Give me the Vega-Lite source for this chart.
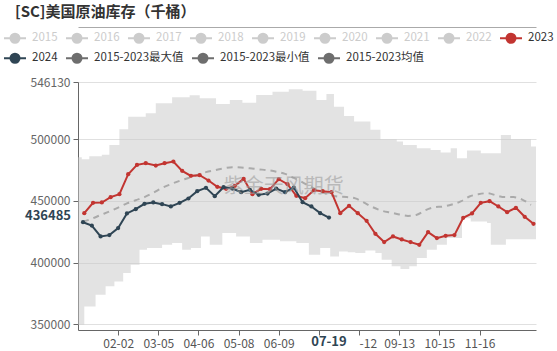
{
  "$schema": "https://vega.github.io/schema/vega-lite/v6.json",
  "width": 458,
  "height": 248,
  "autosize": {"type": "none"},
  "padding": {"left": 78, "top": 82, "right": 21, "bottom": 21},
  "background": "white",
  "title": {"text": "[SC]美国原油库存（千桶）", "anchor": "start", "frame": "group", "dx": -63, "offset": 6, "font": "Noto Sans CJK SC", "fontSize": 15, "fontWeight": "bold", "color": "#333333"},
  "config": {
    "view": {"stroke": null},
    "font": "Noto Sans CJK SC",
    "legend": {
      "title": null,
      "orient": "none",
      "direction": "horizontal",
      "padding": 0,
      "symbolType": "M-1,0L1,0M-0.41,0A0.41,0.41,0,1,1,0.41,0A0.41,0.41,0,1,1,-0.41,0Z",
      "symbolSize": 484,
      "symbolStrokeWidth": 2,
      "labelFontSize": 11.5,
      "labelOffset": 5,
      "columnPadding": 4,
      "labelColor": "#333333"
    }
  },
  "datasets": {
    "band": [
      {"date": "2024-01-01", "max": 485300, "min": 349800},
      {"date": "2024-01-04", "max": 483700, "min": 349800},
      {"date": "2024-01-06", "max": 483700, "min": 364600},
      {"date": "2024-01-10", "max": 486000, "min": 364600},
      {"date": "2024-01-15", "max": 486000, "min": 374000},
      {"date": "2024-01-20", "max": 487200, "min": 374000},
      {"date": "2024-01-23", "max": 487200, "min": 380800},
      {"date": "2024-01-26", "max": 495200, "min": 380800},
      {"date": "2024-01-30", "max": 495200, "min": 384800},
      {"date": "2024-02-03", "max": 507900, "min": 384800},
      {"date": "2024-02-06", "max": 507900, "min": 391600},
      {"date": "2024-02-10", "max": 518100, "min": 391600},
      {"date": "2024-02-12", "max": 518100, "min": 398300},
      {"date": "2024-02-19", "max": 518100, "min": 410400},
      {"date": "2024-02-24", "max": 520800, "min": 410400},
      {"date": "2024-02-25", "max": 520800, "min": 411800},
      {"date": "2024-03-03", "max": 528900, "min": 411800},
      {"date": "2024-03-08", "max": 528900, "min": 414500},
      {"date": "2024-03-16", "max": 533700, "min": 415800},
      {"date": "2024-03-24", "max": 533700, "min": 410400},
      {"date": "2024-03-30", "max": 535400, "min": 410400},
      {"date": "2024-03-31", "max": 535400, "min": 411800},
      {"date": "2024-04-07", "max": 533000, "min": 411800},
      {"date": "2024-04-08", "max": 533000, "min": 421200},
      {"date": "2024-04-15", "max": 533000, "min": 414500},
      {"date": "2024-04-20", "max": 528400, "min": 414500},
      {"date": "2024-04-25", "max": 528400, "min": 423900},
      {"date": "2024-05-01", "max": 531600, "min": 423900},
      {"date": "2024-05-06", "max": 531600, "min": 421200},
      {"date": "2024-05-11", "max": 529400, "min": 421200},
      {"date": "2024-05-17", "max": 529400, "min": 415800},
      {"date": "2024-05-22", "max": 535600, "min": 415800},
      {"date": "2024-05-27", "max": 535600, "min": 418500},
      {"date": "2024-06-04", "max": 538300, "min": 418500},
      {"date": "2024-06-10", "max": 538300, "min": 417200},
      {"date": "2024-06-17", "max": 540200, "min": 417200},
      {"date": "2024-06-23", "max": 540200, "min": 415800},
      {"date": "2024-06-28", "max": 539100, "min": 415800},
      {"date": "2024-07-03", "max": 539100, "min": 406400},
      {"date": "2024-07-09", "max": 531600, "min": 406400},
      {"date": "2024-07-12", "max": 531600, "min": 411800},
      {"date": "2024-07-17", "max": 536400, "min": 411800},
      {"date": "2024-07-20", "max": 536400, "min": 405000},
      {"date": "2024-07-23", "max": 526200, "min": 405000},
      {"date": "2024-07-27", "max": 526200, "min": 409100},
      {"date": "2024-07-31", "max": 518700, "min": 409100},
      {"date": "2024-08-03", "max": 518700, "min": 408500},
      {"date": "2024-08-08", "max": 514100, "min": 408500},
      {"date": "2024-08-09", "max": 514100, "min": 407700},
      {"date": "2024-08-17", "max": 514100, "min": 409900},
      {"date": "2024-08-21", "max": 507400, "min": 409900},
      {"date": "2024-08-25", "max": 507400, "min": 407700},
      {"date": "2024-08-29", "max": 499800, "min": 407700},
      {"date": "2024-08-30", "max": 499800, "min": 402300},
      {"date": "2024-09-07", "max": 499800, "min": 397000},
      {"date": "2024-09-11", "max": 497900, "min": 397000},
      {"date": "2024-09-14", "max": 497900, "min": 394800},
      {"date": "2024-09-16", "max": 495200, "min": 394800},
      {"date": "2024-09-21", "max": 495200, "min": 397000},
      {"date": "2024-09-27", "max": 492500, "min": 403700},
      {"date": "2024-10-05", "max": 492500, "min": 410400},
      {"date": "2024-10-08", "max": 491200, "min": 410400},
      {"date": "2024-10-13", "max": 491200, "min": 414500},
      {"date": "2024-10-16", "max": 489000, "min": 414500},
      {"date": "2024-10-21", "max": 489000, "min": 420000},
      {"date": "2024-10-24", "max": 492500, "min": 420000},
      {"date": "2024-10-29", "max": 484500, "min": 420000},
      {"date": "2024-11-02", "max": 484500, "min": 436000},
      {"date": "2024-11-06", "max": 490700, "min": 436000},
      {"date": "2024-11-09", "max": 490700, "min": 433300},
      {"date": "2024-11-17", "max": 488500, "min": 433300},
      {"date": "2024-11-22", "max": 488500, "min": 432000},
      {"date": "2024-11-25", "max": 488500, "min": 414500},
      {"date": "2024-12-03", "max": 503300, "min": 414500},
      {"date": "2024-12-07", "max": 503300, "min": 419000},
      {"date": "2024-12-11", "max": 499800, "min": 419000},
      {"date": "2024-12-27", "max": 493900, "min": 419000},
      {"date": "2024-12-31", "max": 493900, "min": 419000}
    ],
    "mean": [
      {"date": "2024-01-05", "mean": 433000},
      {"date": "2024-01-12", "mean": 435500},
      {"date": "2024-01-19", "mean": 438500},
      {"date": "2024-01-26", "mean": 441400},
      {"date": "2024-02-02", "mean": 444500},
      {"date": "2024-02-09", "mean": 447900},
      {"date": "2024-02-16", "mean": 450500},
      {"date": "2024-02-23", "mean": 453000},
      {"date": "2024-03-01", "mean": 456500},
      {"date": "2024-03-08", "mean": 460500},
      {"date": "2024-03-15", "mean": 463500},
      {"date": "2024-03-22", "mean": 466200},
      {"date": "2024-03-29", "mean": 468500},
      {"date": "2024-04-05", "mean": 471000},
      {"date": "2024-04-12", "mean": 473200},
      {"date": "2024-04-19", "mean": 474800},
      {"date": "2024-04-26", "mean": 476200},
      {"date": "2024-05-03", "mean": 477200},
      {"date": "2024-05-10", "mean": 477000},
      {"date": "2024-05-17", "mean": 476300},
      {"date": "2024-05-24", "mean": 475500},
      {"date": "2024-05-31", "mean": 474800},
      {"date": "2024-06-07", "mean": 473600},
      {"date": "2024-06-14", "mean": 471800},
      {"date": "2024-06-21", "mean": 468500},
      {"date": "2024-06-28", "mean": 465000},
      {"date": "2024-07-05", "mean": 461000},
      {"date": "2024-07-12", "mean": 457500},
      {"date": "2024-07-19", "mean": 455000},
      {"date": "2024-07-26", "mean": 453500},
      {"date": "2024-08-02", "mean": 453000},
      {"date": "2024-08-09", "mean": 452000},
      {"date": "2024-08-16", "mean": 448500},
      {"date": "2024-08-23", "mean": 444800},
      {"date": "2024-08-30", "mean": 442000},
      {"date": "2024-09-06", "mean": 440500},
      {"date": "2024-09-13", "mean": 439000},
      {"date": "2024-09-20", "mean": 437800},
      {"date": "2024-09-27", "mean": 438700},
      {"date": "2024-10-04", "mean": 442500},
      {"date": "2024-10-11", "mean": 444800},
      {"date": "2024-10-18", "mean": 445400},
      {"date": "2024-10-25", "mean": 447000},
      {"date": "2024-11-01", "mean": 449500},
      {"date": "2024-11-08", "mean": 453500},
      {"date": "2024-11-15", "mean": 455300},
      {"date": "2024-11-22", "mean": 456200},
      {"date": "2024-11-29", "mean": 454500},
      {"date": "2024-12-06", "mean": 453000},
      {"date": "2024-12-13", "mean": 453000},
      {"date": "2024-12-20", "mean": 451000},
      {"date": "2024-12-27", "mean": 446700}
    ],
    "series": [
      {"series": "2023", "date": "2024-01-06", "value": 440000},
      {"series": "2023", "date": "2024-01-13", "value": 448400},
      {"series": "2023", "date": "2024-01-20", "value": 448650},
      {"series": "2023", "date": "2024-01-27", "value": 452960},
      {"series": "2023", "date": "2024-02-03", "value": 455390},
      {"series": "2023", "date": "2024-02-10", "value": 471540},
      {"series": "2023", "date": "2024-02-17", "value": 479080},
      {"series": "2023", "date": "2024-02-24", "value": 480430},
      {"series": "2023", "date": "2024-03-03", "value": 478540},
      {"series": "2023", "date": "2024-03-10", "value": 480430},
      {"series": "2023", "date": "2024-03-17", "value": 481780},
      {"series": "2023", "date": "2024-03-24", "value": 474240},
      {"series": "2023", "date": "2024-03-31", "value": 470200},
      {"series": "2023", "date": "2024-04-07", "value": 470740},
      {"series": "2023", "date": "2024-04-14", "value": 466430},
      {"series": "2023", "date": "2024-04-21", "value": 461310},
      {"series": "2023", "date": "2024-04-28", "value": 459690},
      {"series": "2023", "date": "2024-05-05", "value": 462120},
      {"series": "2023", "date": "2024-05-12", "value": 467770},
      {"series": "2023", "date": "2024-05-19", "value": 455390},
      {"series": "2023", "date": "2024-05-26", "value": 459690},
      {"series": "2023", "date": "2024-06-02", "value": 459430},
      {"series": "2023", "date": "2024-06-09", "value": 467500},
      {"series": "2023", "date": "2024-06-16", "value": 463470},
      {"series": "2023", "date": "2024-06-23", "value": 454040},
      {"series": "2023", "date": "2024-06-30", "value": 452150},
      {"series": "2023", "date": "2024-07-07", "value": 458620},
      {"series": "2023", "date": "2024-07-14", "value": 457810},
      {"series": "2023", "date": "2024-07-21", "value": 457000},
      {"series": "2023", "date": "2024-07-28", "value": 440040},
      {"series": "2023", "date": "2024-08-04", "value": 445960},
      {"series": "2023", "date": "2024-08-11", "value": 440040},
      {"series": "2023", "date": "2024-08-18", "value": 433840},
      {"series": "2023", "date": "2024-08-25", "value": 423340},
      {"series": "2023", "date": "2024-09-01", "value": 416610},
      {"series": "2023", "date": "2024-09-08", "value": 421180},
      {"series": "2023", "date": "2024-09-15", "value": 418760},
      {"series": "2023", "date": "2024-09-22", "value": 416610},
      {"series": "2023", "date": "2024-09-29", "value": 414450},
      {"series": "2023", "date": "2024-10-06", "value": 424690},
      {"series": "2023", "date": "2024-10-13", "value": 419840},
      {"series": "2023", "date": "2024-10-20", "value": 421720},
      {"series": "2023", "date": "2024-10-27", "value": 422260},
      {"series": "2023", "date": "2024-11-03", "value": 436270},
      {"series": "2023", "date": "2024-11-10", "value": 439770},
      {"series": "2023", "date": "2024-11-17", "value": 448380},
      {"series": "2023", "date": "2024-11-24", "value": 449730},
      {"series": "2023", "date": "2024-12-01", "value": 445420},
      {"series": "2023", "date": "2024-12-08", "value": 440840},
      {"series": "2023", "date": "2024-12-15", "value": 444340},
      {"series": "2023", "date": "2024-12-22", "value": 437070},
      {"series": "2023", "date": "2024-12-29", "value": 431420},
      {"series": "2024", "date": "2024-01-05", "value": 432700},
      {"series": "2024", "date": "2024-01-12", "value": 430000},
      {"series": "2024", "date": "2024-01-19", "value": 421190},
      {"series": "2024", "date": "2024-01-26", "value": 422260},
      {"series": "2024", "date": "2024-02-02", "value": 427920},
      {"series": "2024", "date": "2024-02-09", "value": 439770},
      {"series": "2024", "date": "2024-02-16", "value": 443270},
      {"series": "2024", "date": "2024-02-23", "value": 447580},
      {"series": "2024", "date": "2024-03-01", "value": 448650},
      {"series": "2024", "date": "2024-03-08", "value": 447310},
      {"series": "2024", "date": "2024-03-15", "value": 445420},
      {"series": "2024", "date": "2024-03-22", "value": 448380},
      {"series": "2024", "date": "2024-03-29", "value": 451880},
      {"series": "2024", "date": "2024-04-05", "value": 457810},
      {"series": "2024", "date": "2024-04-12", "value": 460500},
      {"series": "2024", "date": "2024-04-19", "value": 453770},
      {"series": "2024", "date": "2024-04-26", "value": 461040},
      {"series": "2024", "date": "2024-05-03", "value": 459960},
      {"series": "2024", "date": "2024-05-10", "value": 457000},
      {"series": "2024", "date": "2024-05-17", "value": 458890},
      {"series": "2024", "date": "2024-05-24", "value": 454850},
      {"series": "2024", "date": "2024-05-31", "value": 455920},
      {"series": "2024", "date": "2024-06-07", "value": 459960},
      {"series": "2024", "date": "2024-06-14", "value": 457000},
      {"series": "2024", "date": "2024-06-21", "value": 460770},
      {"series": "2024", "date": "2024-06-28", "value": 448920},
      {"series": "2024", "date": "2024-07-05", "value": 445420},
      {"series": "2024", "date": "2024-07-12", "value": 440040},
      {"series": "2024", "date": "2024-07-19", "value": 436485}
    ]
  },
  "resolve": {"axis": {"x": "independent"}, "scale": {"color": "independent"}, "legend": {"color": "independent"}},
  "layer": [
    {
      "data": {"name": "band"},
      "mark": {"type": "area", "interpolate": "step-after", "color": "#c8c8c8", "opacity": 0.5},
      "encoding": {
        "x": {
          "field": "date", "type": "temporal",
          "scale": {"type": "utc", "domain": [{"year": 2024, "month": 1, "date": 1, "utc": true}, {"year": 2024, "month": 12, "date": 31, "utc": true}], "nice": false},
          "axis": {
            "title": null,
            "values": [
              {"year": 2024, "month": 2, "date": 2, "utc": true},
              {"year": 2024, "month": 3, "date": 5, "utc": true},
              {"year": 2024, "month": 4, "date": 6, "utc": true},
              {"year": 2024, "month": 5, "date": 8, "utc": true},
              {"year": 2024, "month": 6, "date": 9, "utc": true},
              {"year": 2024, "month": 7, "date": 11, "utc": true},
              {"year": 2024, "month": 8, "date": 12, "utc": true},
              {"year": 2024, "month": 9, "date": 13, "utc": true},
              {"year": 2024, "month": 10, "date": 15, "utc": true},
              {"year": 2024, "month": 11, "date": 16, "utc": true}
            ],
            "labelExpr": "utcFormat(datum.value,'%m-%d') == '07-11' ? '' : (utcFormat(datum.value,'%m-%d') == '08-12' ? '-12' : utcFormat(datum.value,'%m-%d'))",
            "labelAlign": {"condition": {"test": "utcFormat(datum.value,'%m-%d') == '08-12'", "value": "left"}, "value": "center"},
            "grid": false,
            "labelColor": "#555555",
            "labelFontSize": 12,
            "labelPadding": 3,
            "tickSize": 5,
            "tickColor": "#666666",
            "domainColor": "#666666",
            "labelFlush": false,
            "labelOverlap": false
          }
        },
        "y": {
          "field": "min", "type": "quantitative",
          "scale": {"domain": [345500, 546130], "nice": false, "zero": false},
          "axis": {
            "title": null,
            "values": [350000, 400000, 450000, 500000, 546130],
            "format": "d",
            "labelColor": "#666666",
            "labelFontSize": 12,
            "labelPadding": 3,
            "tickSize": 5,
            "tickColor": "#666666",
            "domainColor": "#666666",
            "gridColor": "#e0e0e0",
            "labelOverlap": false
          }
        },
        "y2": {"field": "max"}
      }
    },
    {
      "data": {"name": "mean"},
      "mark": {"type": "line", "interpolate": "monotone", "color": "#aaaaaa", "strokeWidth": 2, "strokeDash": [6, 5]},
      "encoding": {
        "x": {"field": "date", "type": "temporal", "axis": {"orient": "top", "offset": 55, "labels": false, "ticks": false, "grid": false, "domainColor": "#aaaaaa", "title": null}},
        "y": {"field": "mean", "type": "quantitative"}
      }
    },
    {
      "data": {"name": "series"},
      "transform": [{"filter": "datum.series == '2023'"}],
      "mark": {"type": "line", "strokeWidth": 2, "point": {"filled": true, "size": 18}},
      "encoding": {
        "x": {"field": "date", "type": "temporal", "axis": null},
        "y": {"field": "value", "type": "quantitative"},
        "color": {
          "field": "series", "type": "nominal",
          "scale": {
            "domain": ["2015", "2016", "2017", "2018", "2019", "2020", "2021", "2022", "2023"],
            "range": ["#cccccc", "#cccccc", "#cccccc", "#cccccc", "#cccccc", "#cccccc", "#cccccc", "#cccccc", "#c23531"]
          },
          "legend": {
            "legendX": -75,
            "legendY": -56,
            "columns": 9,
            "encode": {
              "symbols": {"update": {"fill": {"scale": "color", "field": "value"}, "stroke": {"scale": "color", "field": "value"}, "opacity": {"value": 1}}},
              "labels": {"update": {"fill": {"signal": "datum.value < '2023' ? '#cccccc' : '#333333'"}}}
            }
          }
        }
      }
    },
    {
      "data": {"name": "series"},
      "transform": [{"filter": "datum.series == '2024'"}],
      "mark": {"type": "line", "strokeWidth": 2, "point": {"filled": true, "size": 18}},
      "encoding": {
        "x": {"field": "date", "type": "temporal", "axis": null},
        "y": {"field": "value", "type": "quantitative"},
        "color": {
          "field": "series", "type": "nominal",
          "scale": {
            "domain": ["2024", "2015-2023最大值", "2015-2023最小值", "2015-2023均值"],
            "range": ["#2f4554", "#6e6e6e", "#6e6e6e", "#6e6e6e"]
          },
          "legend": {
            "legendX": -75,
            "legendY": -36,
            "columns": 4,
            "encode": {
              "symbols": {"update": {"fill": {"scale": "color_1", "field": "value"}, "stroke": {"scale": "color_1", "field": "value"}, "opacity": {"value": 1}}}
            }
          }
        }
      }
    },
    {
      "data": {"values": [{"date": "2024-06-13", "value": 461300, "label": "紫金天风期货"}]},
      "mark": {"type": "text", "fontSize": 20, "color": "#9e9e9e", "opacity": 0.6},
      "encoding": {
        "x": {"field": "date", "type": "temporal", "axis": null},
        "y": {"field": "value", "type": "quantitative"},
        "text": {"field": "label"}
      }
    },
    {
      "data": {"values": [{"date": "2024-07-19", "value": 436485, "label": "07-19"}]},
      "mark": {"type": "text", "fontSize": 13, "fontWeight": "bold", "color": "#2f4554", "baseline": "middle", "dy": 12, "clip": false},
      "encoding": {
        "x": {"field": "date", "type": "temporal", "axis": null},
        "y": {"datum": 345500, "type": "quantitative"},
        "text": {"field": "label"}
      }
    },
    {
      "data": {"values": [{"date": "2024-07-19", "value": 436485, "label": "436485"}]},
      "mark": {"type": "text", "fontSize": 13, "fontWeight": "bold", "color": "#2f4554", "baseline": "middle", "align": "right", "dx": -7, "dy": -2, "clip": false},
      "encoding": {
        "x": {"datum": {"year": 2024, "month": 1, "date": 1, "utc": true}, "type": "temporal", "axis": null},
        "y": {"field": "value", "type": "quantitative"},
        "text": {"field": "label"}
      }
    }
  ]
}
